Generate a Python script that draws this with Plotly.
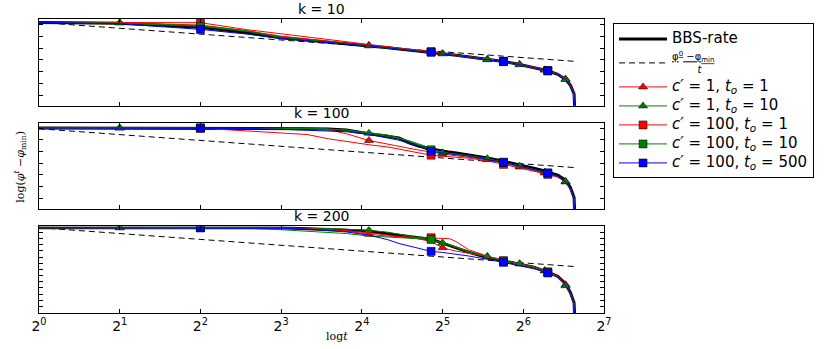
import plotly.graph_objects as go

# time steps (t) sampled along every curve
T = [1, 2, 4, 6, 8, 10, 12, 14, 17, 20, 22, 24, 26, 29, 32, 34, 36, 40,
     47, 54, 62, 70, 77, 79, 86, 92, 96, 99, 100.5]
TRI_T = [2, 17, 32, 47, 62, 77, 92]   # where triangle markers sit
SQ_T = [4, 29, 54, 79]                # where square markers sit

# reference line (phi0 - phi_min)/t
DASH_T = [1, 100.5]
DASH_Y = [0, -6.65]

# values: log2(phi^t - phi_min), relative to phi^0 - phi_min
k10_bbs = [0, -0.14, -0.82, -1.76, -2.61, -3.00, -3.34, -3.63, -3.98, -4.32, -4.52, -4.69, -4.86, -5.05, -5.34,
           -5.48, -5.61, -5.85, -6.33, -6.66, -7.18, -7.65, -8.11, -8.24, -8.84, -9.69, -10.72, -12.17, -20]
k10_c1_t1 = [0, -0.05, -0.45, -1.45, -2.35, -2.85, -3.22, -3.52, -3.90, -4.24, -4.44, -4.62, -4.80, -5.00, -5.30,
             -5.44, -5.58, -5.82, -6.30, -6.63, -7.15, -7.62, -8.08, -8.21, -8.81, -9.65, -10.68, -12.12, -20]
k10_c1_t10 = [0, -0.10, -0.56, -1.42, -2.53, -2.95, -3.34, -3.63, -4.00, -4.34, -4.54, -4.72, -4.89, -5.08, -5.36,
              -5.50, -5.63, -5.88, -6.35, -6.68, -7.20, -7.68, -8.13, -8.26, -8.87, -9.73, -10.76, -12.20, -20]
k10_c100_t1 = [0, -0.03, -0.05, -1.25, -1.96, -2.53, -2.99, -3.38, -3.84, -4.20, -4.42, -4.60, -4.78, -4.98, -5.29,
               -5.43, -5.57, -5.81, -6.29, -6.62, -7.14, -7.61, -8.07, -8.20, -8.80, -9.64, -10.66, -12.10, -20]
k10_c100_t10 = [0, -0.12, -0.68, -1.55, -2.58, -2.98, -3.35, -3.64, -4.00, -4.33, -4.53, -4.70, -4.87, -5.06, -5.35,
                -5.49, -5.62, -5.86, -6.34, -6.67, -7.19, -7.66, -8.12, -8.25, -8.86, -9.71, -10.74, -12.19, -20]
k10_c100_t500 = [0, -0.22, -1.19, -2.01, -2.75, -3.09, -3.40, -3.69, -4.01, -4.34, -4.54, -4.71, -4.88, -5.07, -5.36,
                 -5.50, -5.63, -5.87, -6.35, -6.68, -7.20, -7.67, -8.13, -8.26, -8.87, -9.72, -10.75, -12.20, -20]

k100_bbs = [0.12, 0.12, 0.12, 0.10, 0.07, 0, -0.05, -0.22, -0.85, -1.37, -1.59, -2.39, -2.95, -3.46, -3.84,
            -3.99, -4.15, -4.44, -5.00, -5.55, -6.14, -6.74, -7.22, -7.42, -7.94, -8.79, -10.07, -11.77, -20]
k100_c1_t1 = [0.12, 0.12, 0.12, 0.12, 0.12, 0.05, -0.17, -0.85, -2.00, -2.68, -2.99, -3.33, -3.63, -4.01, -4.35,
              -4.48, -4.61, -4.86, -5.29, -5.89, -6.54, -7.08, -7.56, -7.71, -8.19, -9.10, -10.38, -12.08, -20]
k100_c1_t10 = [0.12, 0.12, 0.12, 0.12, 0.12, 0.05, -0.05, -0.26, -0.77, -1.25, -1.62, -2.05, -2.56, -3.33, -4.10,
               -4.22, -4.35, -4.61, -5.12, -5.68, -6.37, -6.91, -7.39, -7.56, -8.11, -8.99, -10.24, -11.95, -20]
k100_c100_t1 = [0.12, 0.09, 0.09, -0.38, -0.68, -0.99, -1.71, -2.18, -2.73, -3.12, -3.45, -3.75, -4.10, -4.52, -4.69,
                -4.78, -4.86, -5.03, -5.46, -6.09, -6.66, -7.17, -7.65, -7.80, -8.28, -9.13, -10.41, -12.12, -20]
k100_c100_t10 = [0.12, 0.12, 0.12, 0.12, 0.10, 0.03, -0.05, -0.22, -0.68, -1.08, -1.54, -2.13, -2.78, -3.60, -4.05,
                 -4.20, -4.33, -4.60, -5.15, -5.72, -6.38, -6.93, -7.40, -7.56, -8.11, -9.00, -10.26, -11.98, -20]
k100_c100_t500 = [0.12, 0.12, 0.12, 0.05, -0.09, -0.29, -0.34, -0.51, -0.94, -1.62, -1.96, -2.47, -2.99, -3.87, -4.18,
                  -4.31, -4.44, -4.69, -5.20, -5.75, -6.40, -6.96, -7.42, -7.56, -8.11, -9.04, -10.32, -12.03, -20]

k200_bbs = [0, 0, 0, 0, 0, -0.17, -0.29, -0.39, -0.63, -1.02, -1.31, -1.54, -1.71, -1.96, -2.65,
            -3.03, -3.41, -4.18, -5.09, -5.72, -6.23, -6.74, -7.34, -7.59, -8.28, -9.56, -11.09, -12.80, -20]
k200_c1_t1 = [0, 0, 0, 0, 0, -0.12, -0.29, -0.56, -1.14, -1.45, -1.59, -1.71, -1.88, -2.39, -3.41,
              -3.75, -4.01, -4.35, -4.95, -5.63, -6.19, -6.74, -7.34, -7.58, -8.31, -9.73, -11.26, -12.97, -20]
k200_c1_t10 = [0, 0, 0, 0, 0, 0, -0.12, -0.26, -0.46, -0.77, -1.11, -1.45, -1.71, -2.13, -2.61,
               -2.99, -3.38, -4.15, -4.90, -5.68, -6.14, -6.71, -7.34, -7.59, -8.36, -9.90, -11.43, -13.14, -20]
k200_c100_t1 = [0, 0, 0, 0, -0.05, -0.17, -0.34, -0.51, -0.85, -1.28, -1.50, -1.62, -1.67, -1.71, -1.79,
                -1.88, -2.39, -3.75, -4.86, -5.63, -6.18, -6.69, -7.30, -7.54, -8.28, -9.64, -11.18, -12.88, -20]
k200_c100_t10 = [0, 0, 0, -0.10, -0.35, -0.60, -0.80, -1.00, -1.42, -1.59, -1.67, -1.76, -1.84, -2.00, -2.56,
                 -2.94, -3.33, -4.10, -5.03, -5.72, -6.23, -6.77, -7.39, -7.63, -8.36, -9.81, -11.26, -12.97, -20]
k200_c100_t500 = [0, 0, 0, -0.05, -0.12, -0.22, -0.43, -0.73, -1.28, -2.05, -2.70, -3.16, -3.55, -4.04, -4.22,
                  -4.37, -4.52, -4.83, -5.38, -5.92, -6.48, -7.00, -7.56, -7.73, -8.45, -9.81, -11.26, -12.97, -20]

panels = [
    ("k = 10", "", [k10_bbs, k10_c1_t1, k10_c1_t10, k10_c100_t1, k10_c100_t10, k10_c100_t500]),
    ("k = 100", "2", [k100_bbs, k100_c1_t1, k100_c1_t10, k100_c100_t1, k100_c100_t10, k100_c100_t500]),
    ("k = 200", "3", [k200_bbs, k200_c1_t1, k200_c1_t10, k200_c100_t1, k200_c100_t10, k200_c100_t500]),
]

def big(s):
    return "<span style='font-size:15px'>" + s + "</span>"

# name, colour, marker symbol, marker size, marker positions
series_style = [
    (big("<i>c′</i> = 1, <i>t<sub>o</sub></i> = 1"), "#ff0000", "triangle-up", 8, TRI_T),
    (big("<i>c′</i> = 1, <i>t<sub>o</sub></i> = 10"), "#008000", "triangle-up", 8, TRI_T),
    (big("<i>c′</i> = 100, <i>t<sub>o</sub></i> = 1"), "#ff0000", "square", 8, SQ_T),
    (big("<i>c′</i> = 100, <i>t<sub>o</sub></i> = 10"), "#008000", "square", 8, SQ_T),
    (big("<i>c′</i> = 100, <i>t<sub>o</sub></i> = 500"), "#0000ff", "square", 8, SQ_T),
]

domains = [[0.705, 1.0], [0.354, 0.646], [0.0, 0.2946]]
yranges = [[-14.2, 0.58], [-13.7, 0.97], [-14.56, 0.22]]
ytick0 = [-0.4, 0.1, -0.8]
ydtick = [2, 2, 1.053]

fig = go.Figure()

for i, (title, ax, data) in enumerate(panels):
    xa, ya = "x" + ax, "y" + ax
    first = i == 0
    fig.add_trace(go.Scatter(x=T, y=data[0], mode="lines", name=big("BBS-rate"),
                             line=dict(color="black", width=3),
                             xaxis=xa, yaxis=ya, showlegend=first))
    fig.add_trace(go.Scatter(x=DASH_T, y=DASH_Y, mode="lines",
                             name="<u>φ<sup>0</sup> −φ<sub>min</sub></u><br>        <i>t</i>",
                             line=dict(color="black", width=1, dash="6px,4px"),
                             xaxis=xa, yaxis=ya, showlegend=first))
    for (name, color, symbol, size, marks), ys in zip(series_style, data[1:]):
        fig.add_trace(go.Scatter(x=T, y=ys, mode="lines", line=dict(color=color, width=1),
                                 xaxis=xa, yaxis=ya, showlegend=False, hoverinfo="skip"))
        mx = [t for t in T if t in marks]
        my = [y for t, y in zip(T, ys) if t in marks]
        fig.add_trace(go.Scatter(x=mx, y=my, mode="markers",
                                 marker=dict(symbol=symbol, size=size, color=color,
                                             line=dict(color="black", width=0.5)),
                                 xaxis=xa, yaxis=ya, showlegend=False))
        if first:
            # legend-only entry
            fig.add_trace(go.Scatter(x=[None], y=[None], mode="lines+markers", name=name,
                                     line=dict(color=color, width=1),
                                     marker=dict(symbol=symbol, size=size, color=color,
                                                 line=dict(color="black", width=0.5)),
                                     xaxis=xa, yaxis=ya))

    fig.add_annotation(text=title, x=0.5, y=domains[i][1], xref="paper", yref="paper",
                       xanchor="center", yanchor="bottom", showarrow=False,
                       font=dict(size=14, family="DejaVu Sans", color="black"))

xticks = [1, 2, 4, 8, 16, 32, 64, 128]
xtext = ["2<sup>%d</sup>" % n for n in range(8)]

axis_common = dict(showline=True, linecolor="black", linewidth=1, mirror="ticks",
                   ticks="inside", ticklen=4, tickcolor="black", showgrid=False, zeroline=False)

layout = dict()
for i, (_, ax, _) in enumerate(panels):
    layout["xaxis" + ax] = dict(axis_common, type="log", range=[0, 2.10721],
                                tickvals=xticks, ticktext=xtext,
                                showticklabels=(i == 2), anchor="y" + ax,
                                tickfont=dict(size=14, family="DejaVu Sans", color="black"))
    layout["yaxis" + ax] = dict(axis_common, domain=domains[i], range=yranges[i],
                                tick0=ytick0[i], dtick=ydtick[i], showticklabels=False,
                                anchor="x" + ax)

fig.update_layout(**layout)

fig.add_annotation(text="log(<i>φ</i><sup><i>t</i></sup> −<i>φ</i><sub>min</sub>)",
                   x=-0.0336, y=0.4976, xref="paper", yref="paper", textangle=-90,
                   xanchor="center", yanchor="middle",
                   showarrow=False, font=dict(size=11, family="DejaVu Serif", color="black"))
fig.add_annotation(text="log<i>t</i>", x=0.527, y=-0.0806, xref="paper", yref="paper",
                   xanchor="center", yanchor="middle",
                   showarrow=False, font=dict(size=11, family="DejaVu Serif", color="black"))

fig.update_layout(
    width=830, height=349,
    margin=dict(l=39, r=226, t=19, b=36),
    plot_bgcolor="white", paper_bgcolor="white",
    legend=dict(x=1.016, y=0.985, xanchor="left", yanchor="top",
                bordercolor="black", borderwidth=1, bgcolor="white",
                itemwidth=48, font=dict(size=10, family="DejaVu Sans", color="black")),
)

# drop the default 8px page margin so the figure sits at the window corner
fig.write_html("out.html", config={"displayModeBar": False},
               post_script="document.body.style.margin='0px';")
